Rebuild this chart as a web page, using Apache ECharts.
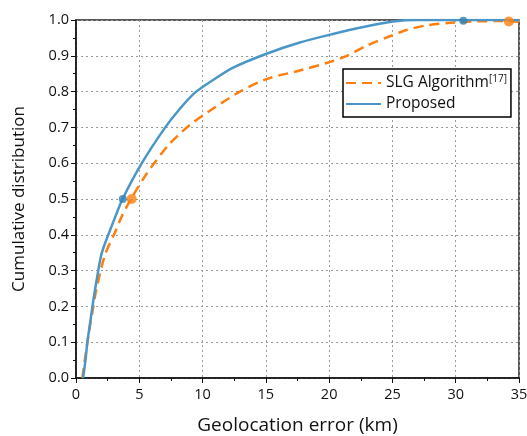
<!DOCTYPE html>
<html>
<head>
<meta charset="utf-8">
<script src="https://cdn.jsdelivr.net/npm/echarts@6/dist/echarts.min.js"></script>
<style>
html,body{margin:0;padding:0;background:#fff;}
#chart{width:527px;height:436px;}
</style>
</head>
<body>
<div id="chart"></div>
<script>
var seriesNames = ['SLG Algorithm', 'Proposed'];
var xTicks = [0, 5, 10, 15, 20, 25, 30, 35];
var yTicks = [0.0, 0.1, 0.2, 0.3, 0.4, 0.5, 0.6, 0.7, 0.8, 0.9, 1.0];

// SLG Algorithm [17] CDF: [error km, cumulative]
var slgCurve = [
  [0.5,0],[0.9,0.1],[1.37,0.2],[1.6,0.246],[2.3,0.345],[3.0,0.4],[3.6,0.45],[4.34,0.5],
  [5.53,0.568],[6.18,0.6],[7.24,0.648],[8.1,0.679],[9.08,0.709],[10.3,0.74],
  [12.95,0.8],[15.05,0.835],[17.68,0.859],[20.0,0.882],[21.4,0.9],[22.95,0.928],
  [24.9,0.956],[26.1,0.972],[27.7,0.985],[29.6,0.992],[31.5,0.996],[33.5,0.997],[35,0.995]
];
// Proposed CDF
var proposedCurve = [
  [0.56,0],[0.75,0.05],[0.9,0.1],[1.1,0.15],[1.3,0.2],[1.5,0.246],[1.97,0.34],
  [2.25,0.372],[2.55,0.4],[3.1,0.45],[3.68,0.5],[5.2,0.6],[7.05,0.7],[8.16,0.75],
  [9.4,0.797],[10.9,0.834],[12.42,0.867],[15.0,0.905],[17.68,0.937],[20.3,0.961],
  [22.9,0.982],[25.05,0.996],[27,1.0],[35,1.0]
];
// highlighted markers
var slgMarkers = [[4.4,0.5],[34.2,0.996]];
var proposedMarkers = [[3.7,0.5],[30.6,0.998]];

var blue = '#4a96c8';
var orange = '#ff7f0e';
var fontFam = '"Open Sans", "Noto Sans", sans-serif';

var chart = echarts.init(document.getElementById('chart'), null, {renderer:'canvas'});
chart.setOption({
  animation: false,
  backgroundColor: '#fff',
  grid: {left: 76, right: 8, top: 20, bottom: 58, containLabel: false, outerBoundsMode: 'none',
    show: true, borderColor: '#222', borderWidth: 1.5, backgroundColor: 'transparent'},
  legend: {
    data: seriesNames,
    orient: 'vertical',
    left: 343, top: 69,
    backgroundColor: '#fff',
    borderColor: '#000',
    borderWidth: 1.5,
    borderRadius: 0,
    padding: [5, 4, 5, 2],
    itemGap: 5,
    itemWidth: 35,
    itemHeight: 14,
    itemStyle: {opacity: 0},
    textStyle: {fontFamily: fontFam, fontSize: 15.5, color: '#111',
      rich: {sup: {fontFamily: fontFam, fontSize: 10, color: '#111', padding: [0,0,8,0]}}},
    formatter: function(n){ return n === 'SLG Algorithm' ? n + '{sup|[17]}' : n; }
  },
  xAxis: {
    type: 'value', min: 0, max: 35, interval: 5,
    name: 'Geolocation error (km)', nameLocation: 'middle', nameGap: 38,
    nameTextStyle: {fontFamily: fontFam, fontSize: 19, color: '#111'},
    axisLine: {show: true, onZero: false, lineStyle: {color: '#111', width: 1.5}},
    axisTick: {show: true, inside: false, length: 5, lineStyle: {color: '#111', width: 1}},
    minorTick: {show: true, splitNumber: 2, length: 3, lineStyle: {color: '#111', width: 1}},
    axisLabel: {fontFamily: fontFam, fontSize: 14.5, color: '#111', margin: 9,
      formatter: function(v){ return xTicks.indexOf(v) >= 0 ? String(v) : ''; }},
    splitLine: {show: true, lineStyle: {color: '#999', type: [2,3], width: 1}}
  },
  yAxis: {
    type: 'value', min: 0, max: 1, interval: 0.1,
    name: 'Cumulative distribution', nameLocation: 'middle', nameGap: 48,
    nameTextStyle: {fontFamily: fontFam, fontSize: 17, color: '#111'},
    axisLine: {show: true, onZero: false, lineStyle: {color: '#111', width: 1.5}},
    axisTick: {show: true, inside: false, length: 5, lineStyle: {color: '#111', width: 1}},
    minorTick: {show: true, splitNumber: 2, length: 3, lineStyle: {color: '#111', width: 1}},
    axisLabel: {fontFamily: fontFam, fontSize: 14.5, color: '#111', margin: 7,
      formatter: function(v){
        var r = Math.round(v*10)/10;
        return yTicks.indexOf(r) >= 0 ? r.toFixed(1) : '';
      }},
    splitLine: {show: true, lineStyle: {color: '#999', type: [2,3], width: 1}}
  },
  series: [
    {name: 'SLG Algorithm', type: 'line', data: slgCurve, showSymbol: false, symbol: 'none',
      smooth: 0.3, color: orange, lineStyle: {color: orange, width: 2.5, type: [10,6]}, z: 3},
    {name: 'Proposed', type: 'line', data: proposedCurve, showSymbol: false, symbol: 'none',
      smooth: 0.3, color: blue, lineStyle: {color: blue, width: 2.5}, z: 4},
    {name: 'slgMarks', type: 'scatter', data: slgMarkers, symbol: 'circle', symbolSize: 10,
      itemStyle: {color: orange}, z: 5},
    {name: 'propMarks', type: 'scatter', data: proposedMarkers, symbol: 'circle', symbolSize: 8,
      itemStyle: {color: '#2f7fb6'}, z: 6}
  ]
});
</script>
</body>
</html>
